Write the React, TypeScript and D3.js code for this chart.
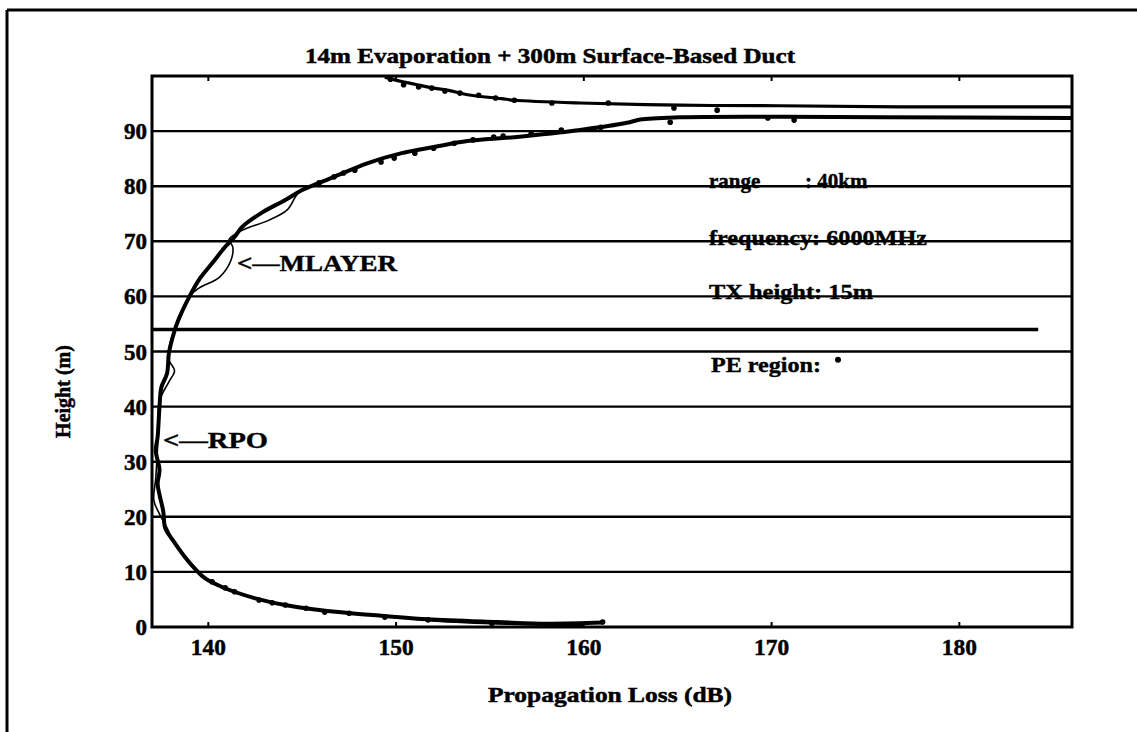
import React from "react";
import * as d3 from "d3";

// ---- data ----
const xTicks = [140, 150, 160, 170, 180];
const yTicks = [0, 10, 20, 30, 40, 50, 60, 70, 80, 90];
const gridLevels = [10, 20, 30, 40, 50, 60, 70, 80, 90];
const ductTopLevel = 54;

// main (thick) propagation-loss curve: [loss dB, height m]
const mainLoss = [161.0, 158.1, 155.4, 151.7, 149.4, 147.6, 145.9, 144.1, 142.5, 140.7, 139.8, 139.2, 138.6, 138.1, 137.7, 137.6, 137.4, 137.3, 137.4, 137.2, 137.3, 137.4, 137.5, 137.8, 137.9, 138.1, 138.4, 139.0, 139.5, 140.2, 140.9, 141.4, 141.8, 142.9, 144.1, 145.0, 146.7, 148.5, 150.3, 152.0, 153.8, 156.3, 159.8, 162.3, 163.0, 165.1, 170.0, 176.0, 186.0];
const mainHeight = [0.8, 0.6, 0.9, 1.4, 2.0, 2.5, 3.1, 4.0, 5.2, 7.3, 8.9, 10.9, 13.4, 15.8, 18.0, 21.0, 24.0, 26.0, 28.5, 32.0, 34.5, 40.0, 43.5, 46.0, 49.7, 52.6, 55.7, 60.0, 63.0, 66.0, 69.0, 70.8, 72.6, 75.3, 77.5, 79.3, 81.7, 84.2, 86.0, 87.1, 88.2, 88.9, 90.2, 91.5, 92.1, 92.5, 92.6, 92.5, 92.4];

// thin (RPO / MLAYER) curve
const thinLoss = [160.0, 156.0, 152.0, 149.4, 147.6, 145.9, 144.1, 142.5, 140.7, 139.8, 139.2, 138.6, 138.1, 137.8, 137.4, 137.1, 137.2, 137.3, 137.4, 137.9, 138.2, 137.9, 138.0, 138.5, 139.0, 139.5, 140.6, 141.2, 141.3, 141.1, 141.8, 143.2, 144.2, 144.8, 145.5, 146.7, 148.5, 150.3, 152.0, 153.8, 156.3, 159.8, 162.3, 163.0, 165.1, 170.0, 176.0, 186.0];
const thinHeight = [0.3, 0.5, 1.1, 2.0, 2.5, 3.1, 4.0, 5.2, 7.3, 8.9, 10.9, 13.4, 15.8, 18.0, 20.5, 23.0, 27.0, 33.0, 41.0, 44.5, 46.5, 48.5, 52.0, 56.0, 60.0, 61.5, 63.5, 66.5, 69.0, 70.3, 72.0, 73.8, 75.7, 78.8, 80.0, 81.7, 84.2, 86.0, 87.1, 88.2, 88.9, 90.2, 91.5, 92.1, 92.5, 92.6, 92.5, 92.4];

// upper branch (above the duct)
const upperLoss = [149.4, 150.3, 151.0, 152.0, 152.8, 153.8, 155.6, 156.3, 159.8, 165.1, 170.4, 176.8, 186.0];
const upperHeight = [99.8, 99.0, 98.5, 97.8, 97.4, 96.6, 95.9, 95.6, 95.1, 94.7, 94.6, 94.4, 94.4];

// PE region points
const peLoss = [140.2, 140.9, 141.4, 142.7, 143.4, 144.1, 145.2, 146.2, 147.5, 149.4, 151.7, 155.1, 161.0,
  145.9, 146.7, 147.2, 147.8, 149.2, 149.9, 151.0, 152.0, 153.1, 154.1, 155.2, 155.7, 157.2, 158.8, 160.9, 164.6, 169.8, 171.2,
  149.7, 150.4, 151.2, 151.9, 152.6, 153.4, 154.4, 155.3, 156.3, 158.3, 161.3, 164.8, 167.1];
const peHeight = [8.2, 7.1, 6.4, 4.9, 4.4, 4.0, 3.4, 2.7, 2.5, 1.8, 1.3, 0.7, 0.9,
  80.6, 81.7, 82.4, 82.9, 84.4, 85.1, 86.0, 86.9, 87.8, 88.4, 88.9, 89.1, 89.6, 90.2, 90.7, 91.6, 92.4, 92.0,
  99.4, 98.4, 98.0, 97.8, 97.3, 96.9, 96.5, 96.0, 95.6, 95.1, 95.1, 94.2, 93.8];

const titleText = "14m Evaporation + 300m Surface-Based Duct";
const xLabelText = "Propagation Loss (dB)";
const yLabelText = "Height (m)";

export default function App() {
  const W = 1137, H = 732;
  const x = d3.scaleLinear().domain([137, 186]).range([152, 1072]);
  const y = d3.scaleLinear().domain([0, 100]).range([627, 76]);
  const line = d3.line<[number, number]>().x(d => x(d[0])).y(d => y(d[1])).curve(d3.curveCatmullRom.alpha(0.5));
  const mainPts = mainLoss.map((v, i) => [v, mainHeight[i]] as [number, number]);
  const thinPts = thinLoss.map((v, i) => [v, thinHeight[i]] as [number, number]);
  const upperPts = upperLoss.map((v, i) => [v, upperHeight[i]] as [number, number]);
  const font = "'Liberation Serif', 'Times New Roman', serif";
  const [x0, x1] = x.range();
  const [yb, yt] = y.range();

  return (
    <svg width={W} height={H} style={{ display: "block", position: "absolute", left: 0, top: 0 }}
      fontFamily={font} fontWeight="bold" fill="#000">
      <rect width={W} height={H} fill="#fff" />
      {/* outer frame */}
      <line x1={7} y1={10} x2={W} y2={10} stroke="#000" strokeWidth={3} />
      <line x1={7} y1={10} x2={7} y2={H} stroke="#000" strokeWidth={3} />

      <g stroke="#000" strokeWidth={0.5}>
        {/* title */}
        <text x={550} y={63} textAnchor="middle" fontSize={22} textLength={490} lengthAdjust="spacingAndGlyphs">{titleText}</text>
        {/* axis labels */}
        <text x={610} y={702} textAnchor="middle" fontSize={22} textLength={244} lengthAdjust="spacingAndGlyphs">{xLabelText}</text>
        <text transform={`translate(70,${(yb + yt) / 2 + 40}) rotate(-90)`} textAnchor="middle" fontSize={20}>{yLabelText}</text>
      </g>

      {/* gridlines */}
      {gridLevels.map(g => (
        <line key={g} x1={x0} x2={x1} y1={y(g)} y2={y(g)} stroke="#000" strokeWidth={2.4} />
      ))}
      <line x1={x0} x2={x(184.2)} y1={y(ductTopLevel)} y2={y(ductTopLevel)} stroke="#000" strokeWidth={3.4} />

      {/* plot frame */}
      <rect x={x0} y={yt} width={x1 - x0} height={yb - yt} fill="none" stroke="#000" strokeWidth={3} />
      <g stroke="#000" strokeWidth={0.5}>
        {xTicks.map(t => (
          <g key={t}>
            <line x1={x(t)} x2={x(t)} y1={yt} y2={yt + 5} strokeWidth={2} />
            <line x1={x(t)} x2={x(t)} y1={yb} y2={yb - 5} strokeWidth={2} />
            <text x={x(t)} y={655} textAnchor="middle" fontSize={23} textLength={35} lengthAdjust="spacingAndGlyphs">{t}</text>
          </g>
        ))}
        {yTicks.map(t => (
          <text key={t} x={147} y={y(t) + 8} textAnchor="end" fontSize={23}>{t}</text>
        ))}
      </g>

      {/* curves */}
      <path d={line(thinPts) || ""} fill="none" stroke="#000" strokeWidth={1.6} />
      <path d={line(mainPts) || ""} fill="none" stroke="#000" strokeWidth={4} strokeLinejoin="round" />
      <path d={line(upperPts) || ""} fill="none" stroke="#000" strokeWidth={3.2} />
      {peLoss.map((v, i) => (
        <circle key={i} cx={x(v)} cy={y(peHeight[i])} r={2.8} fill="#000" />
      ))}

      {/* annotations */}
      <g stroke="#000" strokeWidth={0.4}>
        <text x={237} y={y(66) + 8} fontSize={24} textLength={160} lengthAdjust="spacingAndGlyphs">{"<—MLAYER"}</text>
        <text x={163} y={y(34) + 8} fontSize={24} textLength={105} lengthAdjust="spacingAndGlyphs">{"<—RPO"}</text>
        <text x={709} y={y(80) + 2} fontSize={21}>range</text>
        <text x={805} y={y(80) + 2} fontSize={21}>: 40km</text>
        <text x={709} y={y(70) + 4} fontSize={21} textLength={218} lengthAdjust="spacingAndGlyphs">frequency: 6000MHz</text>
        <text x={709} y={y(60) + 3} fontSize={21} textLength={164} lengthAdjust="spacingAndGlyphs">TX height: 15m</text>
        <text x={711} y={y(46.2)} fontSize={21} textLength={110} lengthAdjust="spacingAndGlyphs">PE region:</text>
      </g>
      <circle cx={838} cy={y(48.5)} r={3} fill="#000" />
    </svg>
  );
}
